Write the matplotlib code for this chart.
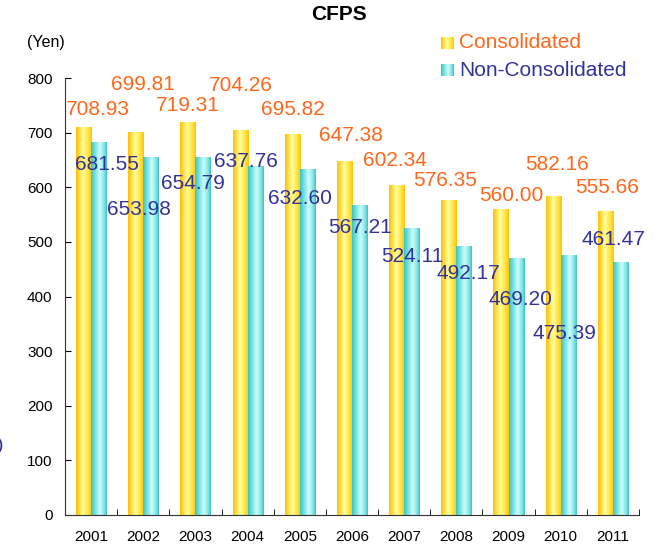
import numpy as np
import matplotlib
matplotlib.use('Agg')
import matplotlib.pyplot as plt
from matplotlib.colors import LinearSegmentedColormap

# data
years = ['2001', '2002', '2003', '2004', '2005', '2006', '2007', '2008', '2009', '2010', '2011']
consolidated = [708.93, 699.81, 719.31, 704.26, 695.82, 647.38, 602.34, 576.35, 560.00, 582.16, 555.66]
non_consolidated = [681.55, 653.98, 654.79, 637.76, 632.60, 567.21, 524.11, 492.17, 469.20, 475.39, 461.47]

# label offsets (pixels) from the bar top at the group centre
cons_dx = [7, 0, -8, -7, -7, -1, -9, -11, 3, -4, -6]
cons_dy = [18, 48, 17, 45, 25, 26, 25, 20, 14, 32, 24]
non_dx = [16, -4, -3, -2, 0, 8, 8, 12, 12, 4, 1]
non_dy = [-22, -52, -26, 5, -29, -22, -28, -27, -41, -78, 23]

orange = '#FF6619'
blue = '#333399'

plt.rcParams['font.family'] = ['Liberation Sans', 'DejaVu Sans']

yellow_cmap = LinearSegmentedColormap.from_list(
    'yel', [(0, '#FFC000'), (0.45, '#FFFF99'), (0.8, '#FFE040'), (1, '#FFC400')])
cyan_cmap = LinearSegmentedColormap.from_list(
    'cya', [(0, '#33C6C6'), (0.55, '#CCFFFF'), (0.85, '#80E0E0'), (1, '#33C6C6')])
grad = np.linspace(0, 1, 64).reshape(1, -1)

fig = plt.figure(figsize=(6.63, 5.53), dpi=100)
ax = fig.add_axes([65 / 663, 38 / 553, 574 / 663, 437 / 553])

x = np.arange(len(years))
w = 0.29
bars1 = ax.bar(x - w / 2, consolidated, w)
bars2 = ax.bar(x + w / 2, non_consolidated, w)


def shade(bars, cmap):
    for b in bars:
        x0, y0 = b.get_x(), b.get_y()
        ax.imshow(grad, cmap=cmap, aspect='auto', interpolation='bilinear', zorder=2,
                  extent=[x0, x0 + b.get_width(), y0, y0 + b.get_height()])
        b.set_visible(False)


shade(bars1, yellow_cmap)
shade(bars2, cyan_cmap)

for i in range(len(years)):
    ax.annotate(f'{consolidated[i]:.2f}', (x[i], consolidated[i]),
                xytext=(cons_dx[i], cons_dy[i]), textcoords='offset pixels',
                ha='center', va='center', color=orange, fontsize=15,
                annotation_clip=False, zorder=5)
    ax.annotate(f'{non_consolidated[i]:.2f}', (x[i], non_consolidated[i]),
                xytext=(non_dx[i], non_dy[i]), textcoords='offset pixels',
                ha='center', va='center', color=blue, fontsize=15,
                annotation_clip=False, zorder=5)

ax.set_xlim(-0.5, len(years) - 0.5)
ax.set_ylim(0, 800)
ax.set_yticks(range(0, 801, 100))
ax.set_xticks(x, years)
ax.set_xticks(np.arange(-0.5, len(years), 1), minor=True)
ax.tick_params(axis='x', which='major', length=0, pad=11, labelsize=11)
ax.tick_params(axis='x', which='minor', direction='in', length=4)
ax.tick_params(axis='y', direction='in', length=4, pad=9, labelsize=11)
for s in ['top', 'right']:
    ax.spines[s].set_visible(False)
for s in ['left', 'bottom']:
    ax.spines[s].set_color('#333333')

fig.text(339 / 663, 1 - 14 / 553, 'CFPS', ha='center', va='center',
         fontsize=15, fontweight='bold')
fig.text(46 / 663, 1 - 42 / 553, '(Yen)', ha='center', va='center', fontsize=11.5)

# legend drawn by hand so the swatches keep the gradient
for label, cmap, col, yc in [('Consolidated', yellow_cmap, orange, 43),
                             ('Non-Consolidated', cyan_cmap, blue, 70)]:
    lax = fig.add_axes([441 / 663, 1 - (yc + 6.5) / 553, 13 / 663, 13 / 553])
    lax.imshow(grad, cmap=cmap, aspect='auto')
    lax.axis('off')
    fig.text(459 / 663, 1 - yc / 553, label, ha='left', va='center',
             color=col, fontsize=15)

# stray blue glyph cut by the left edge of the picture
fig.text(3 / 663, 1 - 446 / 553, ')', ha='right', va='center', color=blue, fontsize=14)

fig.savefig('out.png', dpi=100)
